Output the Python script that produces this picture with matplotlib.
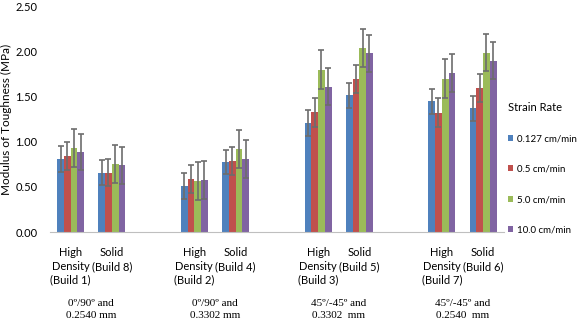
import numpy as np
import matplotlib.pyplot as plt

plt.rcParams['font.family'] = ['Lato', 'DejaVu Sans']

# categories (empty strings are spacer slots between the build pairs)
categories = ['High\nDensity\n(Build 1)', 'Solid\n(Build 8)', '',
              'High\nDensity\n(Build 2)', 'Solid\n(Build 4)', '',
              'High\nDensity\n(Build 3)', 'Solid\n(Build 5)', '',
              'High\nDensity\n(Build 7)', 'Solid\n(Build 6)']
series = ['0.127 cm/min', '0.5 cm/min', '5.0 cm/min', '10.0 cm/min']
colors = ['#4F81BD', '#C0504D', '#9BBB59', '#8064A2']

# values per build (order: B1, B8, B2, B4, B3, B5, B7, B6)
v_0127 = [0.81, 0.66, 0.51, 0.78, 1.21, 1.515, 1.45, 1.37]
v_05 = [0.84, 0.66, 0.585, 0.79, 1.33, 1.70, 1.325, 1.60]
v_50 = [0.93, 0.755, 0.567, 0.92, 1.80, 2.04, 1.70, 1.99]
v_100 = [0.89, 0.74, 0.575, 0.815, 1.61, 1.98, 1.76, 1.90]
e_0127 = [0.145, 0.135, 0.145, 0.135, 0.14, 0.14, 0.14, 0.14]
e_05 = [0.155, 0.15, 0.155, 0.155, 0.16, 0.155, 0.16, 0.155]
e_50 = [0.21, 0.21, 0.215, 0.215, 0.215, 0.21, 0.215, 0.21]
e_100 = [0.20, 0.205, 0.21, 0.21, 0.205, 0.205, 0.21, 0.205]

group_notes = ['0º/90º and\n0.2540 mm', '0º/90º and\n0.3302 mm',
               '45º/-45º and\n0.3302  mm', '45º/-45º and\n0.2540  mm']

values = [v_0127, v_05, v_50, v_100]
errors = [e_0127, e_05, e_50, e_100]

used = np.array([i for i, c in enumerate(categories) if c != ''])

fig = plt.figure(figsize=(5.81, 3.26), dpi=100)
ax = fig.add_axes([0.086, 0.288, 0.781, 0.692])

w = 0.163
for k in range(4):
    ax.bar(used + (k - 1.5) * w, values[k], w, color=colors[k], label=series[k],
           yerr=errors[k], error_kw=dict(ecolor='#6d6d6d', elinewidth=1.2,
                                         capsize=2.5, capthick=1.2))

ax.set_xlim(-0.5, len(categories) - 0.5)
ax.set_ylim(0, 2.5)
ax.set_yticks(np.arange(0, 2.51, 0.5))
ax.set_yticklabels(['%.2f' % t for t in np.arange(0, 2.51, 0.5)], fontsize=8)
ax.set_xticks(used)
ax.set_xticklabels([categories[i] for i in used], fontsize=8, va='top',
                   linespacing=1.3)
ax.tick_params(axis='x', length=0, pad=11)
ax.tick_params(axis='y', length=0, pad=9)
for s in ['top', 'right', 'left']:
    ax.spines[s].set_visible(False)
ax.spines['bottom'].set_color('#bfbfbf')
ax.set_ylabel('Modulus of Toughness (MPa)', fontsize=8.5)
ax.yaxis.set_label_coords(-0.083, 0.5)

# notes under each pair
for j, note in enumerate(group_notes):
    xc = used[2 * j:2 * j + 2].mean()
    ax.text(xc, -0.295, note, transform=ax.get_xaxis_transform(), ha='center',
            va='top', fontsize=8, family='Liberation Serif', linespacing=1.45)

leg = ax.legend(title='Strain Rate', loc='upper left',
                bbox_to_anchor=(1.005, 0.585), frameon=False, fontsize=7,
                title_fontsize=8, handlelength=0.55, handleheight=0.55,
                handletextpad=0.4, labelspacing=2.2, borderaxespad=0,
                borderpad=0.2)
leg._legend_box.align = 'left'

fig.savefig('out.png', dpi=100)
